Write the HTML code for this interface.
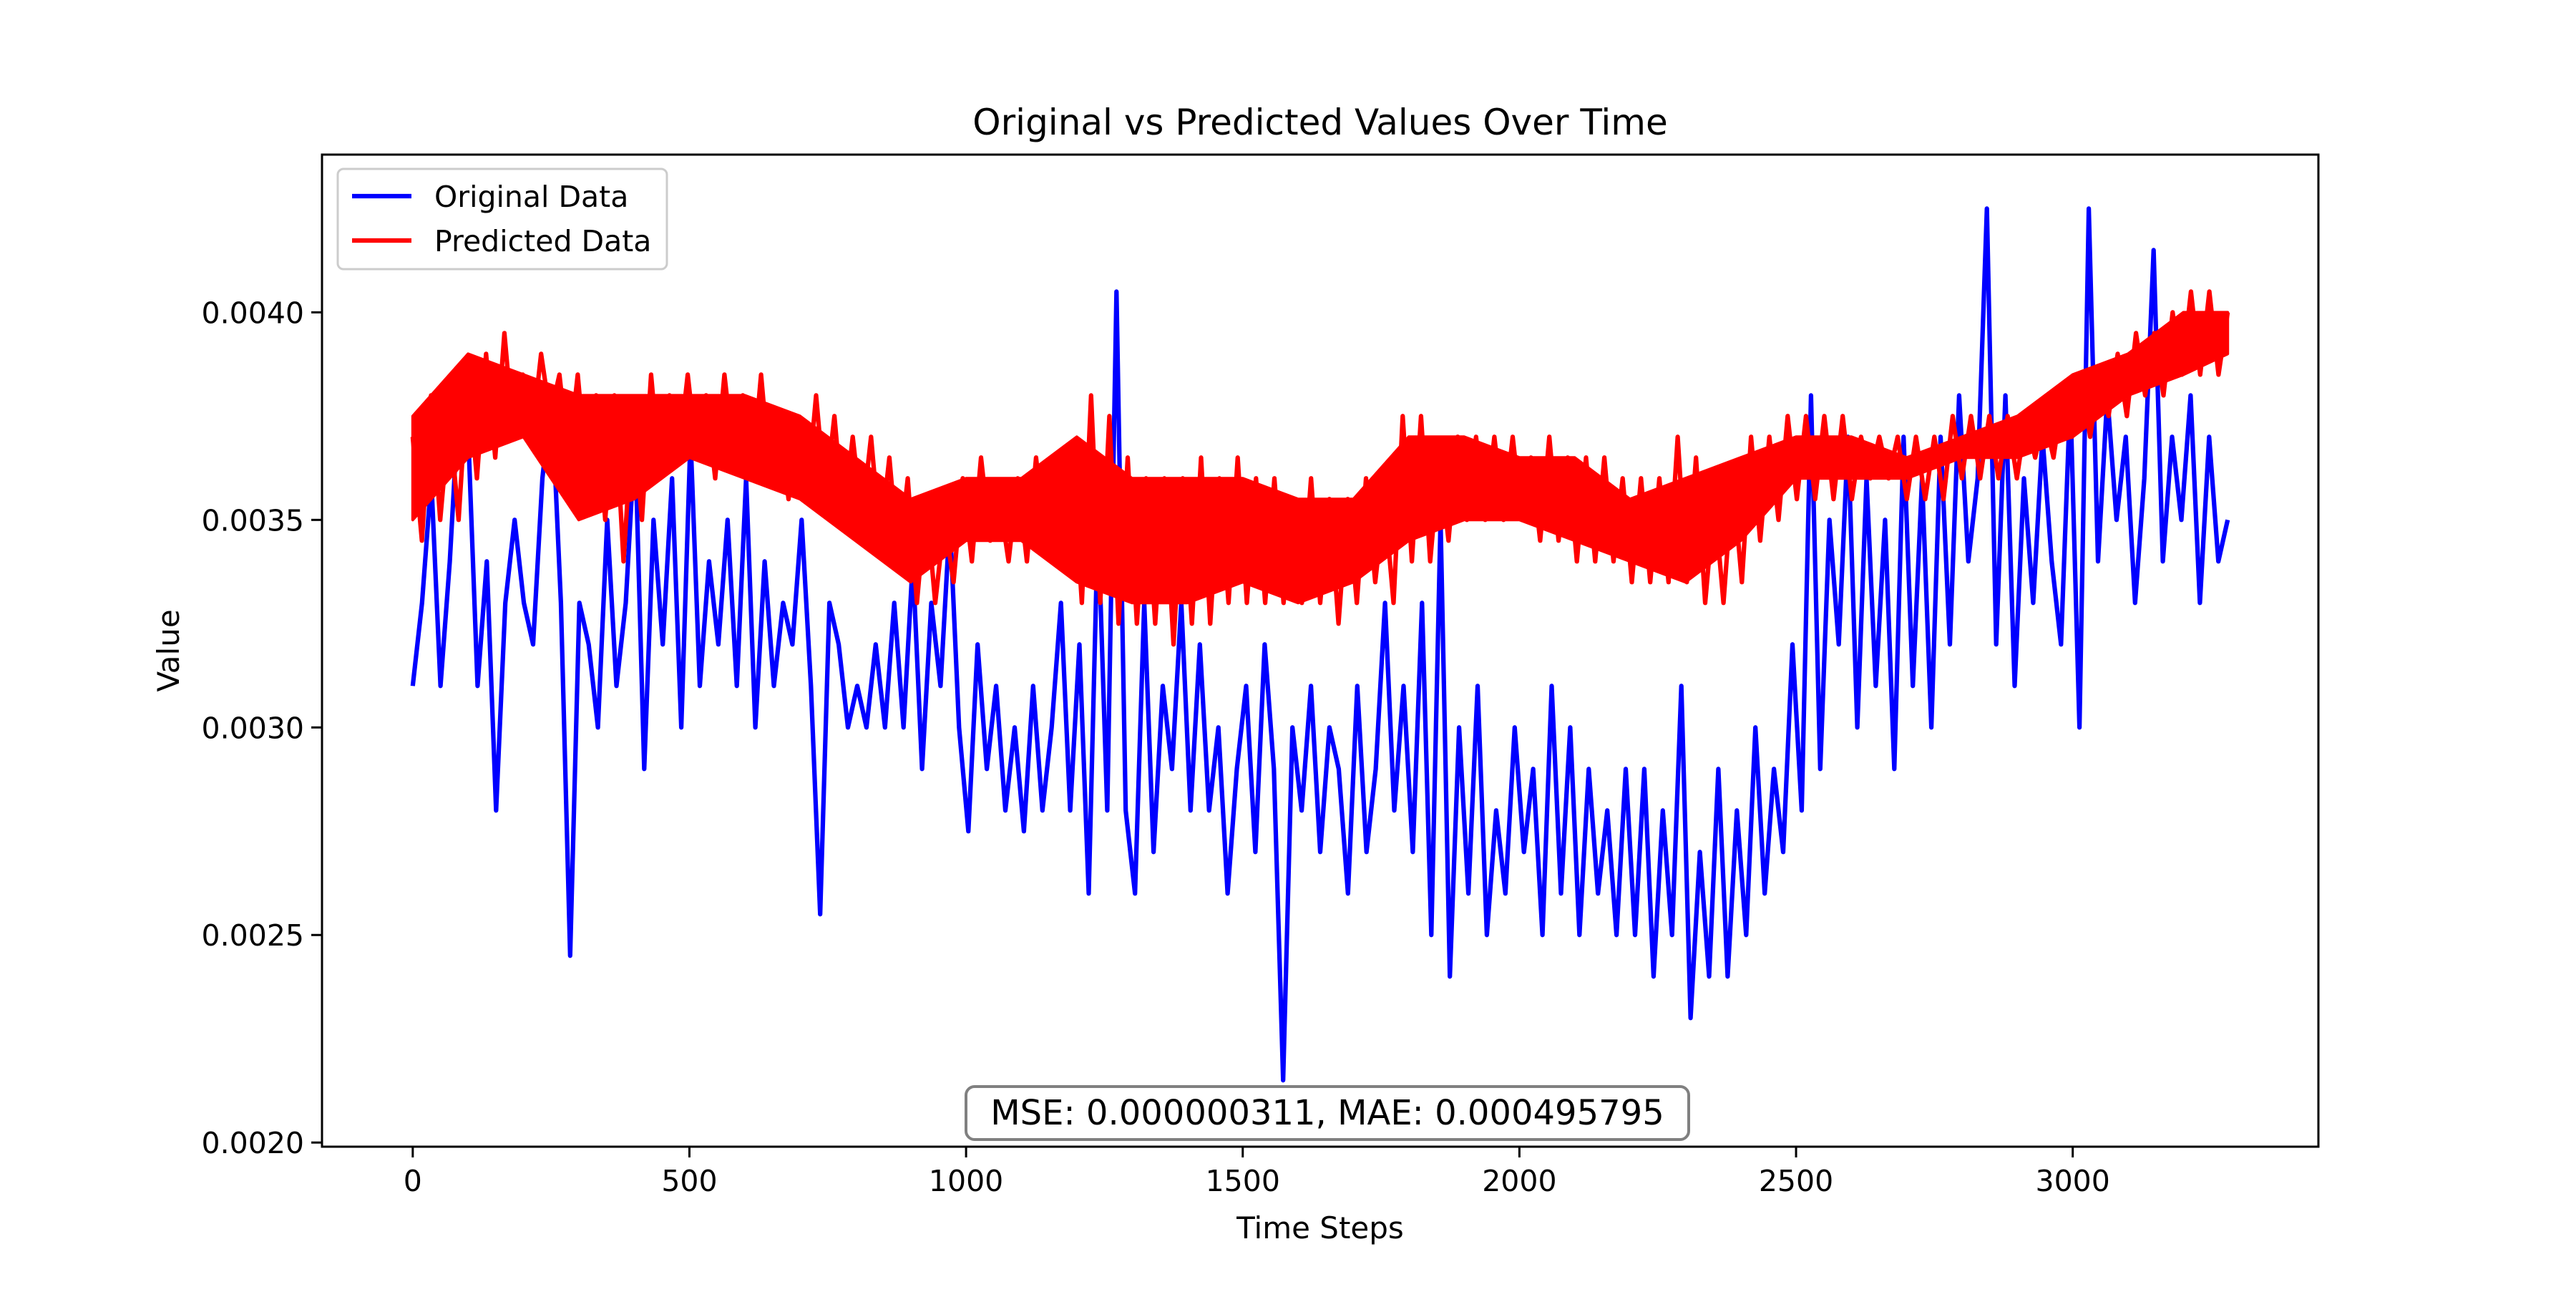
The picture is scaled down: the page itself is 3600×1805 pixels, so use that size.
<!DOCTYPE html>
<html><head><meta charset="utf-8"><style>
html,body{margin:0;padding:0;background:#fff}
svg text{font-family:"DejaVu Sans","Liberation Sans",sans-serif}
</style></head><body>
<svg id="chart" width="3600" height="1800" viewBox="0 0 3600 1800" xmlns="http://www.w3.org/2000/svg">
<rect width="3600" height="1800" fill="#fff"/>
<text x="1845" y="188" font-size="50" text-anchor="middle">Original vs Predicted Values Over Time</text>
<defs><clipPath id="clip"><rect x="450" y="216" width="2790" height="1386"/></clipPath></defs>
<g id="series" clip-path="url(#clip)"></g>
<g id="axes"></g>
<rect x="450" y="216" width="2790" height="1386" fill="none" stroke="#000" stroke-width="3"/>
<text x="1845" y="1730" font-size="42" text-anchor="middle">Time Steps</text>
<text x="0" y="0" font-size="42" text-anchor="middle" transform="translate(250,909) rotate(-90)">Value</text>
<g>
<rect x="472" y="236" width="460" height="140" rx="8" fill="#fff" fill-opacity="0.8" stroke="#ccc" stroke-width="3"/>
<line x1="492" y1="274" x2="575" y2="274" stroke="#0000ff" stroke-width="6.25"/>
<text x="607" y="289" font-size="41">Original Data</text>
<line x1="492" y1="336" x2="575" y2="336" stroke="#ff0000" stroke-width="6.25"/>
<text x="607" y="351" font-size="41">Predicted Data</text>
</g>
<g>
<rect x="1350" y="1518" width="1010" height="74" rx="12" fill="#fff" fill-opacity="0.8" stroke="#808080" stroke-width="4"/>
<text x="1855" y="1571" font-size="48" text-anchor="middle">MSE: 0.000000311, MAE: 0.000495795</text>
</g>
</svg>
<script>
const xTicks = [0,500,1000,1500,2000,2500,3000];
const yTicks = [0.0020,0.0025,0.0030,0.0035,0.0040];
const yTickLabels = ["0.0020","0.0025","0.0030","0.0035","0.0040"];
const totalSteps = 3280;
// values in units of 1e-4
const original = [
31,33,36,31,34,38, 37,31,34,28,33,35, 33,32,36,38,33,24.5, 33,32,30,35,31,33,
37,29,35,32,36,30, 37,31,34,32,35,31, 36,30,34,31,33,32, 35,31,25.5,33,32,30,
31,30,32,30,33,30, 34,29,33,31,35,30, 27.5,32,29,31,28,30, 27.5,31,28,30,33,28,
32,26,35,28,40.5,28, 26,33,27,31,29,33, 28,32,28,30,26,29, 31,27,32,29,21.5,30,
28,31,27,30,29,26, 31,27,29,33,28,31, 27,33,25,35,24,30, 26,31,25,28,26,30,
27,29,25,31,26,30, 25,29,26,28,25,29, 25,29,24,28,25,31, 23,27,24,29,24,28,
25,30,26,29,27,32, 28,38,29,35,32,37, 30,36,31,35,29,37, 31,36,30,37,32,38,
34,36,42.5,32,38,31, 36,33,37,34,32,38, 30,42.5,34,38,35,37, 33,36,41.5,34,37,35,
38,33,37,34,35];
const predicted = [
37,34.5,38,35,37.5,35, 38.5,36,39,36.5,39.5,37, 38.5,37,39,37.5,38.5,36.5, 38.5,36,38,35,38,34,
37.5,35,38.5,36,38,36.5, 38.5,36.5,38,36,38.5,36.5, 38,36,38.5,36,37.5,35.5, 37.5,35.5,38,35.5,37.5,35,
37,35,37,34.5,36.5,34, 36,33,35.5,33,35,33.5, 36,34,36.5,34.5,35.5,34, 36,34,36.5,34.5,36,34,
36.5,33,38,33,37.5,32.5, 36.5,32.5,36,32.5,36,32, 36,32.5,36.5,32.5,36,33, 36.5,33,36,33,36,33,
35.5,33,36,33,35.5,32.5, 35.5,33,36,33.5,35.5,33, 37.5,34,37.5,34,36.5,34.5, 37,35,37,35,37,35,
37,35,36.5,34.5,37,34.5, 36.5,34,36.5,34,36.5,34, 36,33.5,36,33.5,36,33.5, 37,33.5,36.5,33,35.5,33,
36,33.5,37,34.5,37,35, 37.5,35.5,37.5,35.5,37.5,35.5, 37.5,35.5,37,36,37,36, 37,35.5,37,35.5,37,35.5,
37.5,36,37.5,36,37.5,36, 37.5,36,37.5,36.5,37.5,36.5, 38,37,38.5,37,38.5,37.5, 39,37.5,39.5,38,39.5,38,
40,38.5,40.5,38.5,40.5,38.5,40];
// dense core of predicted band, units 1e-4
const envelopeSteps = [0,100,200,300,400,500,600,700,800,900,1000,1100,1200,1300,1400,1500,1600,1700,1800,1900,2000,2100,2200,2300,2400,2500,2600,2700,2800,2900,3000,3100,3200,3280];
const predictedHigh = [37.5,39,38.5,38,38,38,38,37.5,36.5,35.5,36,36,37,36,36,36,35.5,35.5,37,37,36.5,36.5,35.5,36,36.5,37,37,36.5,37,37.5,38.5,39,40,40];
const predictedLow = [35,36.5,37,35,35.5,36.5,36,35.5,34.5,33.5,34.5,34.5,33.5,33,33,33.5,33,33.5,34.5,35,35,34.5,34,33.5,34.5,36,36,36,36.5,36.5,37,38,38.5,39];

const L=450,R=3240,T=216,B=1602;
const xmin=-164,xmax=3444,ymin=0.00199,ymax=0.00438;
const xs=v=>L+(v-xmin)/(xmax-xmin)*(R-L);
const ys=v=>B-(v-ymin)/(ymax-ymin)*(B-T);
const NS='http://www.w3.org/2000/svg';
const series=document.getElementById('series');
const axes=document.getElementById('axes');
function mk(tag,attrs,parent){const e=document.createElementNS(NS,tag);for(const k in attrs)e.setAttribute(k,attrs[k]);parent.appendChild(e);return e;}
function line(arr,color,name){
  const n=arr.length;
  const pts=arr.map((v,i)=>xs(i*totalSteps/(n-1)).toFixed(1)+','+ys(v*1e-4).toFixed(1)).join(' ');
  const p=mk('polyline',{points:pts,fill:'none',stroke:color,'stroke-width':6.25,'stroke-linejoin':'round'},series);
  
  
}
line(original,'#0000ff','original-data-line');
const bandPts=envelopeSteps.map((s,i)=>xs(s).toFixed(1)+','+ys(predictedHigh[i]*1e-4).toFixed(1))
  .concat(envelopeSteps.map((s,i)=>xs(s).toFixed(1)+','+ys(predictedLow[i]*1e-4).toFixed(1)).reverse()).join(' ');
const band=mk('polygon',{points:bandPts,fill:'#ff0000',stroke:'#ff0000','stroke-width':4,'stroke-linejoin':'round'},series);


line(predicted,'#ff0000','predicted-data-line');
xTicks.forEach(t=>{
  const x=xs(t);
  const tk=mk('line',{x1:x,x2:x,y1:B,y2:B+15,stroke:'#000','stroke-width':3},axes);
  
  
  const tx=mk('text',{x:x,y:B+62,'font-size':41,'text-anchor':'middle'},axes);
  tx.textContent=String(t);
  
  
});
yTicks.forEach((t,i)=>{
  const y=ys(t);
  const tk=mk('line',{x1:L-15,x2:L,y1:y,y2:y,stroke:'#000','stroke-width':3},axes);
  
  
  const tx=mk('text',{x:L-25,y:y+15,'font-size':41,'text-anchor':'end'},axes);
  tx.textContent=yTickLabels[i];
  
  
});
</script>
</body></html>
